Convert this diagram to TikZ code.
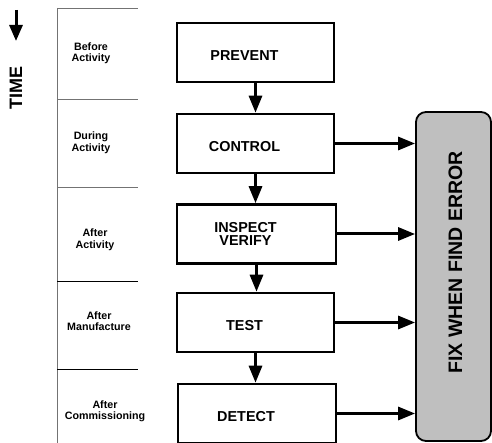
\documentclass[tikz,border=0pt]{standalone}
\usepackage{fontspec}
\setmainfont{Liberation Sans}
\usetikzlibrary{arrows.meta}
\tikzset{
 stage/.style={draw, line width=2.6pt, minimum width=157pt, minimum height=59pt, inner sep=0pt},
 stagetext/.style={font=\bfseries\fontsize{14.4}{13}\selectfont, align=center, xshift=-11pt, yshift=-3pt},
 when/.style={font=\bfseries\fontsize{10.7}{11.5}\selectfont, align=center},
 flow/.style={line width=3pt, -{Triangle[length=17pt,width=13pt]}},
 sep/.style={line width=0.9pt},
}
\begin{document}
\begin{tikzpicture}[x=1pt,y=-1pt]
\useasboundingbox (0,0) rectangle (492,443);

% time
\coordinate (t0) at (16,10);
\coordinate (t1) at (16,41);
\draw[line width=3pt,-{Triangle[length=16pt,width=13pt]}] (t0) -- (t1);
\node[rotate=90, font=\bfseries\fontsize{18}{18}\selectfont] (time) at (16,88) {TIME};

% phase column
\draw[sep, black!55] (57,8) -- (57,443);
\foreach \y in {8,99,187}
 \draw[sep, black!55] (57,\y) -- (138,\y);
\foreach \y in {281,369}
 \draw[sep] (57,\y) -- (138,\y);
\node[when] (before) at (91,53) {Before\\Activity};
\node[when] (during) at (91,142.5) {During\\Activity};
\node[when] (after) at (95,239.5) {After\\Activity};
\node[when] (manuf) at (99,321) {After\\Manufacture};
\node[when] (commis) at (105,411.5) {After\\Commissioning};

% stages
\node[stage, label={[stagetext]center:PREVENT}] (prevent) at (255.5,52.5) {};
\node[stage, label={[stagetext]center:CONTROL}] (control) at (255.5,143.5) {};
\node[stage, minimum width=159pt, label={[stagetext, yshift=3pt]center:{INSPECT\\VERIFY}}] (inspect) at (256.5,234) {};
\node[stage, label={[stagetext]center:TEST}] (test) at (255.5,322.5) {};
\node[stage, minimum width=158pt, label={[stagetext]center:DETECT}] (detect) at (257,413.5) {};

% fix
\node[draw, line width=1.8pt, fill=black!25, rounded corners=10pt, minimum width=75pt, minimum height=329pt] (fix) at (453.5,276.5) {};
\node[rotate=90, font=\bfseries\fontsize{19.5}{20}\selectfont] (fixtext) at ([xshift=2pt,yshift=14pt]fix.center) {FIX WHEN FIND ERROR};

\draw[flow] (prevent.south) -- (prevent.south |- control.north);
\draw[flow] (control.south) -- (control.south |- inspect.north);
\draw[flow] (inspect.south) -- (inspect.south |- test.north);
\draw[flow] (test.south) -- (test.south |- detect.north);
\foreach \n in {control,inspect,test,detect}
 \draw[flow] (\n.east) -- (\n.east -| fix.west);
\end{tikzpicture}
\end{document}
